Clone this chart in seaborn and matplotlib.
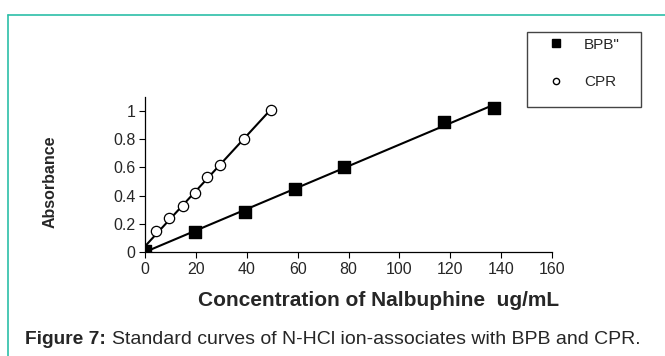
import matplotlib
matplotlib.use("Agg")
import matplotlib.pyplot as plt
from matplotlib.lines import Line2D
from matplotlib.patches import Rectangle
import numpy as np
import pandas as pd
import seaborn as sns

sns.set_style("white")
plt.rcParams['font.family'] = ['Liberation Sans', 'DejaVu Sans']

# Data
bpb_conc = [0, 19.6, 39.2, 58.8, 78.4, 117.6, 137.2]
bpb_abs = [0.01, 0.145, 0.285, 0.445, 0.60, 0.925, 1.025]
cpr_conc = [0, 4.5, 9.5, 14.8, 19.6, 24.3, 29.4, 38.9, 49.6]
cpr_abs = [0.01, 0.15, 0.24, 0.325, 0.42, 0.53, 0.62, 0.805, 1.005]
x_ticks = [0, 20, 40, 60, 80, 100, 120, 140, 160]
y_ticks = [0, 0.2, 0.4, 0.6, 0.8, 1]
y_tick_labels = ["0", "0.2", "0.4", "0.6", "0.8", "1"]
legend_labels = ['BPB"', "CPR"]

bpb = pd.DataFrame({"conc": bpb_conc, "abs": bpb_abs})
cpr = pd.DataFrame({"conc": cpr_conc, "abs": cpr_abs})

fig = plt.figure(figsize=(6.65, 3.56), dpi=100)
ax = fig.add_axes([145/665, 1-252/356, (552-145)/665, (252-97)/356])

sns.regplot(data=cpr, x="conc", y="abs", ax=ax, ci=None, marker="o",
            scatter_kws=dict(s=55, facecolors="white", edgecolors="black", linewidths=0.9,
                             alpha=1, zorder=3),
            line_kws=dict(color="black", lw=1.5, zorder=2))
sns.regplot(data=bpb, x="conc", y="abs", ax=ax, ci=None, marker="s",
            scatter_kws=dict(s=80, color="black", alpha=1, zorder=4),
            line_kws=dict(color="black", lw=1.5, zorder=2))

ax.set_xlim(0, 160)
ax.set_ylim(0, 1.1)
ax.set_xticks(x_ticks)
ax.set_yticks(y_ticks)
ax.set_yticklabels(y_tick_labels)
ax.tick_params(axis="both", direction="out", length=4, width=0.8, labelsize=11.5, color="black", pad=3,
               left=True, bottom=True)
for s in ["top", "right"]:
    ax.spines[s].set_visible(False)
for s in ["left", "bottom"]:
    ax.spines[s].set_color("black")
    ax.spines[s].set_linewidth(0.9)
ax.set_xlabel("")
ax.set_ylabel("")

fig.text(50/665, 1-182/356, "Absorbance", rotation=90, ha="center", va="center",
         fontsize=11.5, fontweight="bold")
fig.text(379/665, 1-300/356, "Concentration of Nalbuphine  ug/mL", ha="center", va="center",
         fontsize=15, fontweight="bold")
fig.text(25/665, 1-340/356, "Figure 7:", ha="left", va="center", fontsize=13.8, fontweight="bold")
fig.text(112/665, 1-340/356, "Standard curves of N-HCl ion-associates with BPB and CPR.",
         ha="left", va="center", fontsize=14)

handles = [Line2D([], [], ls="none", marker="s", color="black", markersize=5.5),
           Line2D([], [], ls="none", marker="o", markerfacecolor="white", markeredgecolor="black",
                  markersize=4.5)]
leg = ax.legend(handles, legend_labels, loc="upper left",
                bbox_to_anchor=(527/665, 1-32/356), bbox_transform=fig.transFigure,
                frameon=False, fontsize=11, labelspacing=1.55,
                handletextpad=0.35, borderpad=0.37, borderaxespad=0, handlelength=3.0)
fig.add_artist(Rectangle((527/665, 1-107/356), (641-527)/665, (107-32)/356,
                         transform=fig.transFigure, fill=False, edgecolor="#444444", lw=1.0))

teal = "#2cbfa8"
fig.add_artist(Line2D([8/665, 8/665], [0, 1-15/356], color=teal, lw=1.2, transform=fig.transFigure))
fig.add_artist(Line2D([8/665, 1], [1-15/356, 1-15/356], color=teal, lw=1.2, transform=fig.transFigure))

fig.savefig("out.png", dpi=100)
